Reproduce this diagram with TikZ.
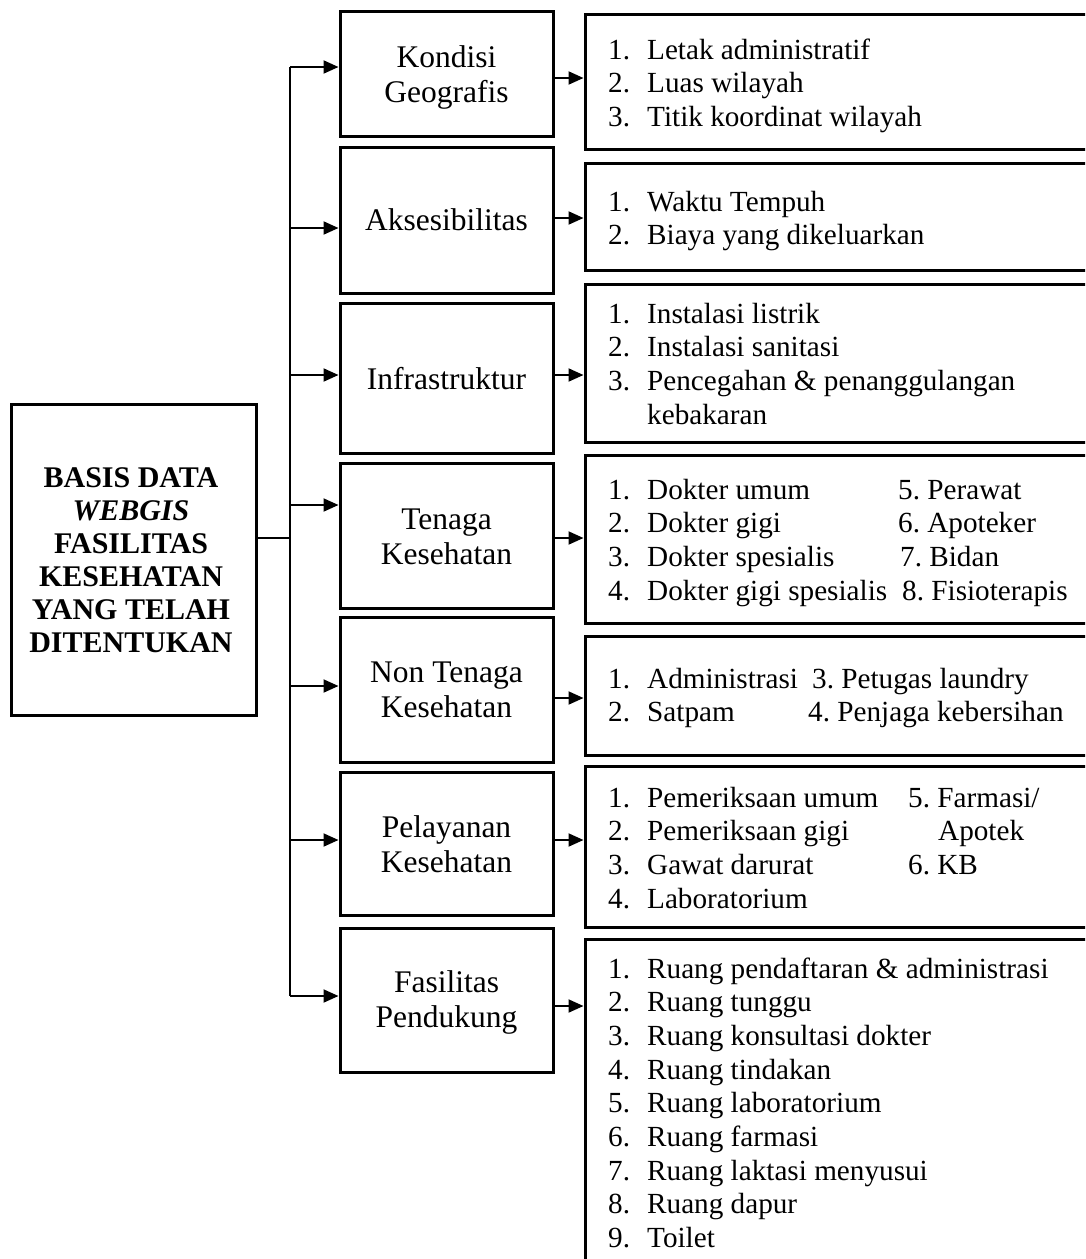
\documentclass[tikz,border=0pt]{standalone}
\usepackage{fontspec}
\setmainfont{Liberation Serif}
\usetikzlibrary{arrows.meta}
\newcommand{\itm}[2]{\makebox[39pt][l]{#1}#2}
\newcommand{\colat}[2]{\makebox[#1pt][l]{#2}}
\begin{document}
\frenchspacing
\begin{tikzpicture}[x=1pt,y=-1pt,
  box/.style={draw,line width=3pt,inner sep=0pt},
  midbox/.style={box,minimum width=213pt},
  rbox/.style={box,minimum width=515pt},
  mtext/.style={anchor=base,inner sep=0pt,font=\fontsize{31.5}{35}\selectfont},
  ltext/.style={anchor=base,inner sep=0pt,font=\fontsize{30}{33}\selectfont\bfseries},
  rtext/.style={anchor=base west,inner sep=0pt,font=\fontsize{29.2}{33.7}\selectfont},
  conn/.style={line width=2pt},
  arr/.style={line width=2pt,-{Triangle[length=15pt,width=13pt]}}]
\useasboundingbox (0,0) rectangle (1085,1259);
\clip (0,0) rectangle (1085,1259);

% left box
\node[box,minimum width=245pt,minimum height=311pt] (L) at (133.5,559.5) {};
\node[ltext] (Lt) at (131,487) {\begin{tabular}[t]{@{}c@{}}
BASIS DATA\\\textit{WEBGIS}\\FASILITAS\\KESEHATAN\\YANG TELAH\\DITENTUKAN\end{tabular}};

% middle boxes
\node[midbox,minimum height=125pt] (M1) at (446.5,73.5) {};
\node[midbox,minimum height=146pt] (M2) at (446.5,220) {};
\node[midbox,minimum height=150pt] (M3) at (446.5,378) {};
\node[midbox,minimum height=145pt] (M4) at (446.5,535.5) {};
\node[midbox,minimum height=145pt] (M5) at (446.5,689.5) {};
\node[midbox,minimum height=143pt] (M6) at (446.5,843.5) {};
\node[midbox,minimum height=144pt] (M7) at (446.5,1000) {};

\node[mtext] (M1t) at (446.5,67) {\begin{tabular}[t]{@{}c@{}}Kondisi\\Geografis\end{tabular}};
\node[mtext] (M2t) at (446.5,230) {Aksesibilitas};
\node[mtext] (M3t) at (446.5,389) {Infrastruktur};
\node[mtext] (M4t) at (446.5,529) {\begin{tabular}[t]{@{}c@{}}Tenaga\\Kesehatan\end{tabular}};
\node[mtext] (M5t) at (446.5,682) {\begin{tabular}[t]{@{}c@{}}Non Tenaga\\Kesehatan\end{tabular}};
\node[mtext] (M6t) at (446.5,837) {\begin{tabular}[t]{@{}c@{}}Pelayanan\\Kesehatan\end{tabular}};
\node[mtext] (M7t) at (446.5,992) {\begin{tabular}[t]{@{}c@{}}Fasilitas\\Pendukung\end{tabular}};

% right boxes
\node[rbox,minimum height=135pt] (R1) at (842.5,81.5) {};
\node[rbox,minimum height=107pt] (R2) at (842.5,216.5) {};
\node[rbox,minimum height=158pt] (R3) at (842.5,363) {};
\node[rbox,minimum height=168pt] (R4) at (842.5,539) {};
\node[rbox,minimum height=119pt] (R5) at (842.5,695.5) {};
\node[rbox,minimum height=161pt] (R6) at (842.5,846.5) {};
\node[rbox,minimum height=380pt] (R7) at (842.5,1129) {};

% right box texts
\node[rtext] (T1) at (608,59) {\begin{tabular}[t]{@{}l@{}}
\itm{1.}{Letak administratif}\\
\itm{2.}{Luas wilayah}\\
\itm{3.}{Titik koordinat wilayah}\end{tabular}};
\node[rtext] (T2) at (608,211) {\begin{tabular}[t]{@{}l@{}}
\itm{1.}{Waktu Tempuh}\\
\itm{2.}{Biaya yang dikeluarkan}\end{tabular}};
\node[rtext] (T3) at (608,323) {\begin{tabular}[t]{@{}l@{}}
\itm{1.}{Instalasi listrik}\\
\itm{2.}{Instalasi sanitasi}\\
\itm{3.}{Pencegahan \& penanggulangan}\\
\itm{}{kebakaran}\end{tabular}};
\node[rtext] (T4) at (608,499) {\begin{tabular}[t]{@{}l@{}}
\colat{290}{\itm{1.}{Dokter umum}}5. Perawat\\
\colat{290}{\itm{2.}{Dokter gigi}}6. Apoteker\\
\colat{292}{\itm{3.}{Dokter spesialis}}7. Bidan\\
\colat{294}{\itm{4.}{Dokter gigi spesialis}}8. Fisioterapis\end{tabular}};
\node[rtext] (T5) at (608,688) {\begin{tabular}[t]{@{}l@{}}
\colat{204}{\itm{1.}{Administrasi}}3. Petugas laundry\\
\colat{200}{\itm{2.}{Satpam}}4. Penjaga kebersihan\end{tabular}};
\node[rtext] (T6) at (608,807) {\begin{tabular}[t]{@{}l@{}}
\colat{300}{\itm{1.}{Pemeriksaan umum}}5. Farmasi/\\
\colat{330}{\itm{2.}{Pemeriksaan gigi}}Apotek\\
\colat{300}{\itm{3.}{Gawat darurat}}6. KB\\
\itm{4.}{Laboratorium}\end{tabular}};
\node[rtext] (T7) at (608,978) {\begin{tabular}[t]{@{}l@{}}
\itm{1.}{Ruang pendaftaran \& administrasi}\\
\itm{2.}{Ruang tunggu}\\
\itm{3.}{Ruang konsultasi dokter}\\
\itm{4.}{Ruang tindakan}\\
\itm{5.}{Ruang laboratorium}\\
\itm{6.}{Ruang farmasi}\\
\itm{7.}{Ruang laktasi menyusui}\\
\itm{8.}{Ruang dapur}\\
\itm{9.}{Toilet}\end{tabular}};

% trunk coordinates
\coordinate (J) at (290,538);
\coordinate (t1) at (290,67);
\coordinate (t2) at (290,228);
\coordinate (t3) at (290,375);
\coordinate (t4) at (290,505);
\coordinate (t5) at (290,686);
\coordinate (t6) at (290,840);
\coordinate (t7) at (290,996);
% right arrow levels
\coordinate (a1) at (570,78);
\coordinate (a2) at (570,218);
\coordinate (a3) at (570,375);
\coordinate (a4) at (570,538);
\coordinate (a5) at (570,698);
\coordinate (a6) at (570,840);
\coordinate (a7) at (570,1006);

\draw[conn] (L.east |- J) -- (J);
\draw[conn] (t1) -- (t7);
\foreach \i in {1,...,7}{
  \draw[arr] (t\i) -- (M\i.west |- t\i);
  \draw[arr] (M\i.east |- a\i) -- (R\i.west |- a\i);
}
\end{tikzpicture}
\end{document}
